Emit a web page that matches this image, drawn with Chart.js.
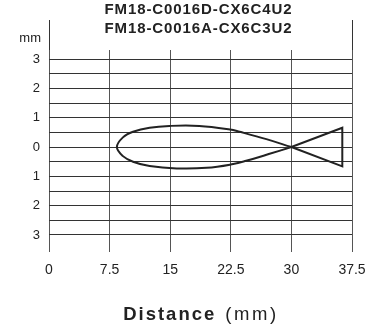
<!DOCTYPE html>
<html>
<head>
<meta charset="utf-8">
<script src="https://cdn.jsdelivr.net/npm/chart.js@4/dist/chart.umd.min.js"></script>
<style>
  html, body { margin: 0; padding: 0; background: #ffffff; }
  #wrap { width: 371px; height: 329px; position: relative; }
</style>
</head>
<body>
<div id="wrap"><canvas id="c"></canvas></div>
<script>
// ---- data ----
const titleLines = ["FM18-C0016D-CX6C4U2", "FM18-C0016A-CX6C3U2"];
const xTickValues = [0, 7.5, 15, 22.5, 30, 37.5];
const yGridValues = [-3, -2.5, -2, -1.5, -1, -0.5, 0, 0.5, 1, 1.5, 2, 2.5, 3];
const yTickValues = [-3, -2, -1, 0, 1, 2, 3];
const yUnit = "mm";
const xTitleBold = "Distance";
const xTitleNormal = "(mm)";

// body of the detection zone: crossing -> lower edge -> nose -> upper edge -> crossing
const bodyX = [30, 27.2, 24.4, 22.8, 19.5, 15.8, 12.45, 10.4, 9.15, 8.4, 9.15, 10.4, 12.45, 14.9, 18.6, 22.4, 23.6, 26.9, 30];
const bodyY = [0, -0.24, -0.47, -0.58, -0.71, -0.73, -0.65, -0.5, -0.31, 0, 0.33, 0.52, 0.66, 0.72, 0.72, 0.6, 0.52, 0.27, 0];
// tail triangle
const tailX = [30, 36.3, 36.3, 30];
const tailY = [0, -0.66, 0.66, 0];

const toPts = (xs, ys) => xs.map((x, i) => ({ x: x, y: ys[i] }));
const TXT = '#222222';
const GRID = '#333333';

const extras = {
  id: 'extras',
  afterDraw(chart) {
    const ctx = chart.ctx;
    const xs = chart.scales.x;
    const area = chart.chartArea;
    ctx.save();
    // outer frame lines extend above the plot
    ctx.strokeStyle = GRID;
    ctx.lineWidth = 1;
    [xTickValues[0], xTickValues[xTickValues.length - 1]].forEach(v => {
      const px = Math.round(xs.getPixelForValue(v)) + 0.5;
      ctx.beginPath();
      ctx.moveTo(px, 20);
      ctx.lineTo(px, area.top);
      ctx.stroke();
    });
    // unit label
    ctx.fillStyle = TXT;
    ctx.font = '13px "Liberation Sans", Arial, sans-serif';
    ctx.textAlign = 'right';
    ctx.textBaseline = 'alphabetic';
    ctx.fillText(yUnit, area.left - 8, 42);
    // title
    ctx.font = 'bold 15px "Liberation Sans", Arial, sans-serif';
    ctx.letterSpacing = '0.9px';
    ctx.textAlign = 'center';
    const cx = 198.5;
    ctx.fillText(titleLines[0], cx, 14);
    ctx.fillText(titleLines[1], cx, 32.5);
    // x axis title with mixed weights
    ctx.textAlign = 'left';
    const fb = 'bold 18.5px "Liberation Sans", Arial, sans-serif';
    const fn = '18.5px "Liberation Sans", Arial, sans-serif';
    ctx.font = fb; ctx.letterSpacing = '2px';
    const w1 = ctx.measureText(xTitleBold).width;
    ctx.font = fn; ctx.letterSpacing = '2.6px';
    const w2 = ctx.measureText(xTitleNormal).width;
    const gap = 9;
    const start = 201 - (w1 + gap + w2) / 2;
    ctx.font = fb; ctx.letterSpacing = '2px';
    ctx.fillText(xTitleBold, start, 320);
    ctx.font = fn; ctx.letterSpacing = '2.6px';
    ctx.fillText(xTitleNormal, start + w1 + gap, 320);
    ctx.restore();
  }
};

new Chart(document.getElementById('c'), {
  type: 'scatter',
  data: {
    datasets: [
      {
        label: 'body',
        data: toPts(bodyX, bodyY),
        showLine: true,
        borderColor: TXT,
        borderWidth: 2,
        pointRadius: 0,
        tension: 0.4,
        fill: false
      },
      {
        label: 'tail',
        data: toPts(tailX, tailY),
        showLine: true,
        borderColor: TXT,
        borderWidth: 2,
        pointRadius: 0,
        tension: 0,
        fill: false,
        borderJoinStyle: 'miter'
      }
    ]
  },
  options: {
    responsive: true,
    maintainAspectRatio: false,
    animation: false,
    events: [],
    layout: { padding: { top: 50, right: 19, left: 0, bottom: 0 } },
    plugins: {
      legend: { display: false },
      title: { display: false },
      tooltip: { enabled: false }
    },
    scales: {
      x: {
        type: 'linear',
        min: xTickValues[0],
        max: xTickValues[xTickValues.length - 1],
        afterBuildTicks: s => { s.ticks = xTickValues.map(v => ({ value: v })); },
        afterFit: s => { s.height = 77; s.paddingLeft = 0; s.paddingRight = 0; },
        border: { display: false },
        grid: { color: '#555555', lineWidth: 1, drawTicks: false },
        ticks: {
          padding: 10,
          color: TXT,
          autoSkip: false,
          maxRotation: 0,
          font: { family: '"Liberation Sans", Arial, sans-serif', size: 14 },
          callback: v => String(v)
        }
      },
      y: {
        type: 'linear',
        min: -3.58,
        max: 3.31,
        afterBuildTicks: s => { s.ticks = yGridValues.map(v => ({ value: v })); },
        afterFit: s => { s.width = 49; },
        border: { display: false },
        grid: { drawTicks: false, lineWidth: 1, color: GRID },
        ticks: {
          autoSkip: false,
          padding: 9,
          color: TXT,
          font: { family: '"Liberation Sans", Arial, sans-serif', size: 13 },
          callback: v => (yTickValues.some(t => Math.abs(t - v) < 1e-6)) ? String(Math.abs(Math.round(v))) : ''
        }
      }
    }
  },
  plugins: [extras]
});
</script>
</body>
</html>
